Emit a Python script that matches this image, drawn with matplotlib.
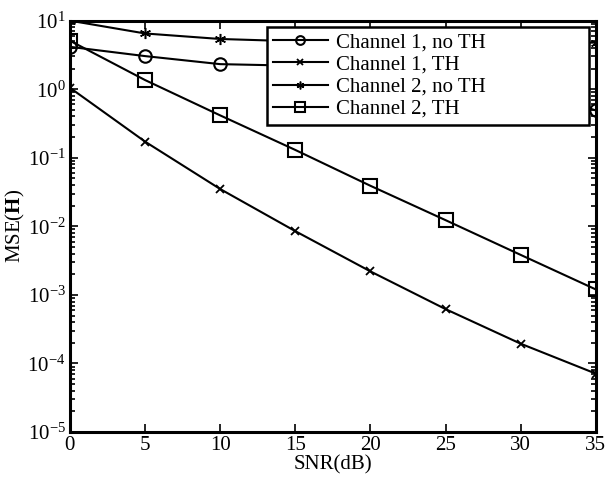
import numpy as np
import matplotlib
matplotlib.use("Agg")
import matplotlib.pyplot as plt
from matplotlib.ticker import NullFormatter

# SNR in dB
snr = [0, 5, 10, 15, 20, 25, 30, 35]

# MSE values (points behind the legend are guesses)
ch1_no_th = [4.15, 3.04, 2.32, 2.2, 2.0, 1.6, 1.1, 0.49]
ch1_th = [1.05, 0.172, 0.035, 0.0085, 0.0022, 0.00062, 0.000194, 0.000071]
ch2_no_th = [10.0, 6.5, 5.4, 5.0, 4.9, 4.85, 4.8, 4.78]
ch2_th = [5.1, 1.36, 0.415, 0.130, 0.039, 0.0123, 0.00383, 0.0012]

labels = ["Channel 1, no TH", "Channel 1, TH", "Channel 2, no TH", "Channel 2, TH"]

plt.rcParams['font.family'] = ['Liberation Serif', 'DejaVu Serif']
plt.rcParams['font.size'] = 15
plt.rcParams['mathtext.fontset'] = 'custom'
plt.rcParams['mathtext.rm'] = 'Liberation Serif'
plt.rcParams['mathtext.it'] = 'Liberation Serif:italic'
plt.rcParams['mathtext.bf'] = 'Liberation Serif:bold'

fig = plt.figure(figsize=(6.08, 4.8), dpi=100)
ax = fig.add_axes([0.115, 0.1, 0.865, 0.857])

ax.semilogy(snr, ch1_no_th, color='k', lw=1.5, marker='o', ms=9, mfc='none', mew=1.5, label=labels[0])
ax.semilogy(snr, ch1_th, color='k', lw=1.5, marker='x', ms=6, mew=1.3, label=labels[1])
ax.semilogy(snr, ch2_no_th, color='k', lw=1.5, marker=(6, 2, 0), ms=8, mew=1.1, label=labels[2])
ax.semilogy(snr, ch2_th, color='k', lw=1.5, marker='s', ms=10, mfc='none', mew=1.5, label=labels[3])

ax.set_xlim(0, 35)
ax.set_ylim(1e-5, 10)
ax.set_xticks(range(0, 36, 5))
ax.yaxis.set_minor_formatter(NullFormatter())
ax.set_xlabel('SNR(dB)', labelpad=0)
ax.set_ylabel(r'MSE($\mathbf{H}$)', labelpad=0)

for sp in ax.spines.values():
    sp.set_linewidth(2.2)
ax.tick_params(which='both', direction='in', top=True, right=True, width=1.2)
ax.tick_params(which='major', length=6, pad=3)
ax.tick_params(which='minor', length=3.5)

leg = ax.legend(loc='upper left', bbox_to_anchor=(0.375, 0.751, 0.612, 0.234), mode='expand',
                borderaxespad=0, fancybox=False, edgecolor='k', framealpha=1,
                handlelength=2.6, handletextpad=0.4, labelspacing=0.12, markerscale=0.7,
                borderpad=0.3, fontsize=15)
leg.get_frame().set_linewidth(1.8)

plt.savefig('out.png', dpi=100)
